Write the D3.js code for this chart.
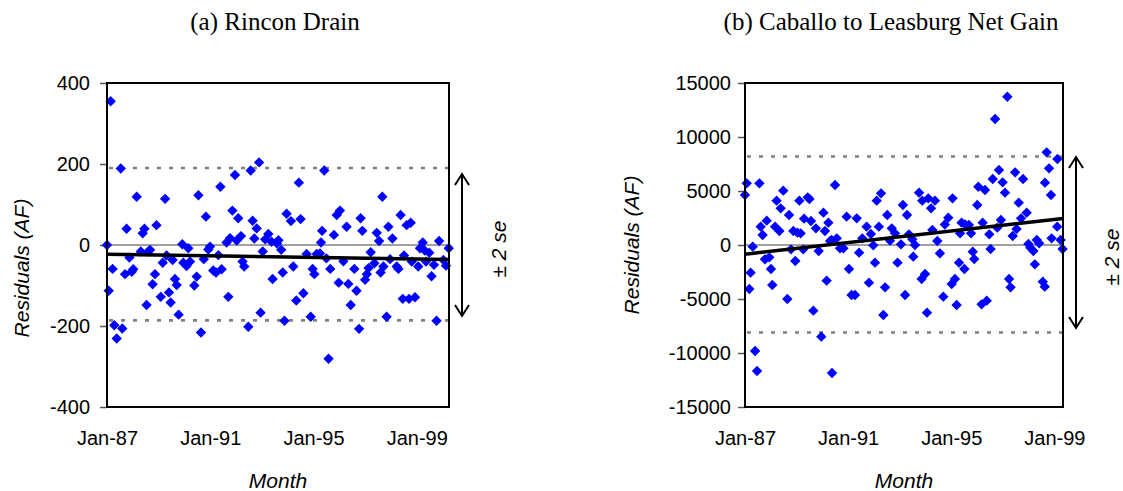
<!DOCTYPE html>
<html>
<head>
<meta charset="utf-8">
<script src="https://cdn.jsdelivr.net/npm/d3@7"></script>
<style>
  html, body { margin: 0; padding: 0; background: #fff; }
  svg { display: block; }
  .tick-label { font-family: "Liberation Sans", Arial, sans-serif; font-size: 20px; fill: #000; }
  .axis-title { font-family: "Liberation Sans", Arial, sans-serif; font-size: 21px; font-style: italic; fill: #000; }
  .panel-title { font-family: "Liberation Serif", "Times New Roman", serif; font-size: 25px; fill: #000; }
</style>
</head>
<body>
<script>
// ---- Data: monthly residuals (months counted from Jan-87) ----
const monthsA = [0,0.8,1.7,2.6,3.4,4.5,6.4,7.1,8.4,9.1,10.4,11.5,12.2,13.8,15.7,16.6,17.4,18.4,19.2,20,21.2,22.3,23,25,25.9,27,27.7,28.8,29.6,30.5,31.6,32.4,33.3,35,35.5,37,37.8,38.6,40.6,41.7,42.5,43.7,45,46,47.1,47.9,49.4,50.7,51.8,52.7,53.3,55.6,56.4,57.2,58.3,59.5,60.3,61,62.3,63,63.8,65.7,66.8,67.7,68.5,69.6,70.7,71.4,72.4,73.5,75,76.5,77,79,79.7,81,81.7,82.5,83.5,85.5,86.6,88,89.2,90,91.3,92.8,94.7,95.6,96.4,97.5,99,99.5,100,101,102,103,103.8,105.5,106.8,107.7,108.3,109.9,111.4,112.2,113.3,115,116,117.2,117.9,118.7,120,120.8,121.6,122.6,124.3,125.4,126.5,127.2,128,128.5,130,130.8,131.6,132.7,134.7,135.5,136.5,137.5,138.1,139.3,140.4,141.2,141.7,143.2,144.7,145.5,146.8,147.8,148.3,149.8,150.9,152,153.2,154.4,156.4,157.6,158.9];
const residA = [0,-113,355,-59,-198,-231,189,-206,-72,40,-31,-66,-60,119,-16,29,40,-148,-16,-12,-97,-72,49,-128,-44,114,-26,-117,-142,-37,-84,-99,-172,2,-44,-52,-8,-41,-100,-78,123,-216,-35,70,-11,-4,-63,-68,-25,144,-60,6,-128,17,85,173,11,66,22,-41,-53,-202,184,60,16,41,204,-167,-16,14,27,8,-84,4,12,-12,-68,-187,77,59,-53,-137,154,64,-119,-22,-177,-59,-72,-22,-21,6,35,184,-33,-281,-59,25,74,-93,85,-40,45,-96,-148,-59,-113,-207,66,35,-86,-72,-57,-18,-45,30,10,-68,119,-53,-177,45,-35,16,-53,-59,74,-133,-26,49,-133,55,-41,-129,-53,-8,6,-14,-41,-19,-77,-49,-187,10,-37,-51,-8];

const monthsB = [0,0.8,2,2.6,3.6,4.7,5.6,6.7,7.3,8.2,9.3,10.1,11.3,12.1,12.7,14,14.7,16,16.6,17.8,19.7,20.5,21.4,22.5,23.4,24.4,25.3,25.9,27.1,27.5,29.2,30,30.7,31.8,33,34.3,35.5,36.5,37.2,38,38.8,39.6,40.3,40.5,41.9,42.7,44.2,45.8,47.3,48.4,49.6,51.2,52,53.1,54.6,56.6,57.7,58.6,59.7,60.5,61.3,62.3,63.3,64.4,65.2,66.2,67.5,68.3,69.8,71,72.6,73.5,74.5,75.4,76.3,77.9,78.3,79.1,81,82.2,82.5,83.8,84.7,85.3,86.6,87.2,88.4,89.5,90.7,92.3,93,94.6,96.2,96.6,97.7,98.5,99.6,100.1,100.8,102.1,102.4,104.2,105.2,106,106.7,108.1,108.6,110.1,110.6,111.7,112.5,113.7,114.3,115.3,116.4,117.4,118.2,119.1,119.9,121,122.1,122.9,123.6,124.6,125.7,126.4,127.4,128.5,129.4,131.1,131.9,132.8,134.2,134.9,135.8,136.9,138.6,139.5,139.6,140.4,141.5,142.4,142.7,145.3,145.4,146.9,147.8];
const residB = [4629,5709,-4074,-2561,-154,-9813,-11665,5709,1697,926,-1327,2253,-1142,-2222,-3703,1697,4104,1296,3394,5030,-4999,2777,-401,1296,-1481,1142,4104,1080,-401,2438,4413,4259,2222,-6079,1543,-555,-8486,2993,1296,-3302,2068,370,463,-11850,5555,617,-309,-309,2623,-2222,-4629,-4629,2469,-710,617,1697,-3487,1018,-31,-1636,4104,1697,4783,-6480,-3919,2777,401,1543,1080,-1636,62,3703,-4629,2777,988,525,-1080,0,4845,-3148,4104,-2685,-6264,4320,3394,1389,4104,370,-772,-4783,1900,2530,-3611,4320,-3148,-5555,-1636,1080,2068,-2222,1913,1852,1080,-617,-1296,3703,5400,-5493,2068,5092,-5154,988,-370,6110,11665,1605,6943,2314,5802,4845,13733,-3148,-3919,833,6727,1481,3919,2469,6110,2993,93,-247,-555,-1790,463,154,-3394,-3857,5771,8579,7098,4629,617,1697,7962,463,-370];

// axis labels and reference lines
const xTickMonths = [0, 48, 96, 144];
const xTickLabels = ["Jan-87", "Jan-91", "Jan-95", "Jan-99"];
const yTicksA = [-400, -200, 0, 200, 400];
const yTicksB = [-15000, -10000, -5000, 0, 5000, 10000, 15000];
const bandA = [-186, 190];          // ±2 se limits
const bandB = [-8100, 8200];
const trendA = [-23, -36];          // fitted trend at first / last month
const trendB = [-850, 2450];
const lastMonthA = 159;
const lastMonthB = 148;

const W = 1123, H = 491;
const svg = d3.select("body").append("svg").attr("width", W).attr("height", H);

function drawPanel(cfg) {
  const x = d3.scaleLinear().domain([0, cfg.lastMonth]).range([cfg.left, cfg.right]);
  const y = d3.scaleLinear().domain(cfg.yDomain).range([cfg.bottom, cfg.top]);
  const g = svg.append("g");

  // y axis with outward ticks; plain hyphen for negatives
  const yAxis = d3.axisLeft(y).tickValues(cfg.yTicks).tickSize(7).tickPadding(cfg.tickPad)
    .tickFormat(d => String(d));
  const ya = g.append("g").attr("transform", `translate(${cfg.left},0)`).call(yAxis);
  ya.select(".domain").remove();
  ya.selectAll(".tick line").attr("stroke", "#555").attr("stroke-width", 1.5);
  ya.selectAll(".tick text").attr("class", "tick-label").attr("font-size", null).attr("font-family", null);

  // x axis labels only
  const xAxis = d3.axisBottom(x).tickValues(xTickMonths).tickSize(0).tickPadding(0)
    .tickFormat((d, i) => xTickLabels[i]);
  const xa = g.append("g").attr("transform", `translate(0,${cfg.bottom})`).call(xAxis);
  xa.select(".domain").remove();
  xa.selectAll(".tick text").attr("class", "tick-label").attr("font-size", null).attr("font-family", null)
    .attr("dy", null).attr("y", 38);

  // zero line
  g.append("line").attr("x1", cfg.left).attr("x2", cfg.right)
    .attr("y1", y(0)).attr("y2", y(0)).attr("stroke", "#808080").attr("stroke-width", 1.5);

  // ±2 se dotted limits
  g.selectAll(".band").data(cfg.band).enter().append("line")
    .attr("x1", cfg.left + 2).attr("x2", cfg.right)
    .attr("y1", d => y(d)).attr("y2", d => y(d))
    .attr("stroke", "#808080").attr("stroke-width", 2.6).attr("stroke-dasharray", "4,8");

  // residual points
  const diamond = d3.symbol().type(d3.symbolSquare).size(54);
  g.selectAll(".pt").data(cfg.months.map((m, i) => [m, cfg.resid[i]])).enter().append("path")
    .attr("d", diamond)
    .attr("transform", d => `translate(${x(d[0])},${y(d[1])}) rotate(45)`)
    .attr("fill", "#0000ff");

  // trend line
  g.append("line").attr("x1", x(0)).attr("x2", x(cfg.lastMonth))
    .attr("y1", y(cfg.trend[0])).attr("y2", y(cfg.trend[1]))
    .attr("stroke", "#000").attr("stroke-width", 3.5);

  // frame
  g.append("rect").attr("x", cfg.left).attr("y", cfg.top)
    .attr("width", cfg.right - cfg.left).attr("height", cfg.bottom - cfg.top)
    .attr("fill", "none").attr("stroke", "#000").attr("stroke-width", 2);

  // titles
  g.append("text").attr("class", "panel-title").attr("x", cfg.titleX).attr("y", 30)
    .attr("text-anchor", "middle").text(cfg.title);
  g.append("text").attr("class", "axis-title").attr("x", (cfg.left + cfg.right) / 2).attr("y", 488)
    .attr("text-anchor", "middle").text("Month");
  g.append("text").attr("class", "axis-title")
    .attr("transform", `translate(${cfg.yTitleX},${cfg.yTitleY}) rotate(-90)`)
    .attr("text-anchor", "middle").text("Residuals (AF)");

  // double-headed arrow spanning the ±2 se band
  const ax = cfg.arrowX, a0 = cfg.arrowTop, a1 = cfg.arrowBottom;
  const ag = g.append("g").attr("stroke", "#000").attr("stroke-width", 2).attr("fill", "none");
  ag.append("line").attr("x1", ax).attr("x2", ax).attr("y1", a0).attr("y2", a1);
  ag.append("path").attr("d", `M${ax - 7},${a0 + 11} L${ax},${a0} L${ax + 7},${a0 + 11}`);
  ag.append("path").attr("d", `M${ax - 7},${a1 - 11} L${ax},${a1} L${ax + 7},${a1 - 11}`);
  g.append("text").attr("class", "axis-title")
    .attr("transform", `translate(${cfg.seX},${cfg.seY}) rotate(-90)`)
    .attr("text-anchor", "middle").text("± 2 se");
}

drawPanel({
  title: "(a) Rincon Drain", titleX: 275,
  left: 107, right: 449, top: 83, bottom: 407,
  lastMonth: lastMonthA, yDomain: [-400, 400], yTicks: yTicksA, tickPad: 10,
  months: monthsA, resid: residA, band: bandA, trend: trendA,
  yTitleX: 29, yTitleY: 268,
  arrowX: 462, arrowTop: 174, arrowBottom: 316, seX: 506, seY: 249
});

drawPanel({
  title: "(b) Caballo to Leasburg Net Gain", titleX: 891,
  left: 745, right: 1063, top: 83, bottom: 407,
  lastMonth: lastMonthB, yDomain: [-15000, 15000], yTicks: yTicksB, tickPad: 7,
  months: monthsB, resid: residB, band: bandB, trend: trendB,
  yTitleX: 639, yTitleY: 245,
  arrowX: 1076, arrowTop: 157, arrowBottom: 328, seX: 1119, seY: 257
});
</script>
</body>
</html>
